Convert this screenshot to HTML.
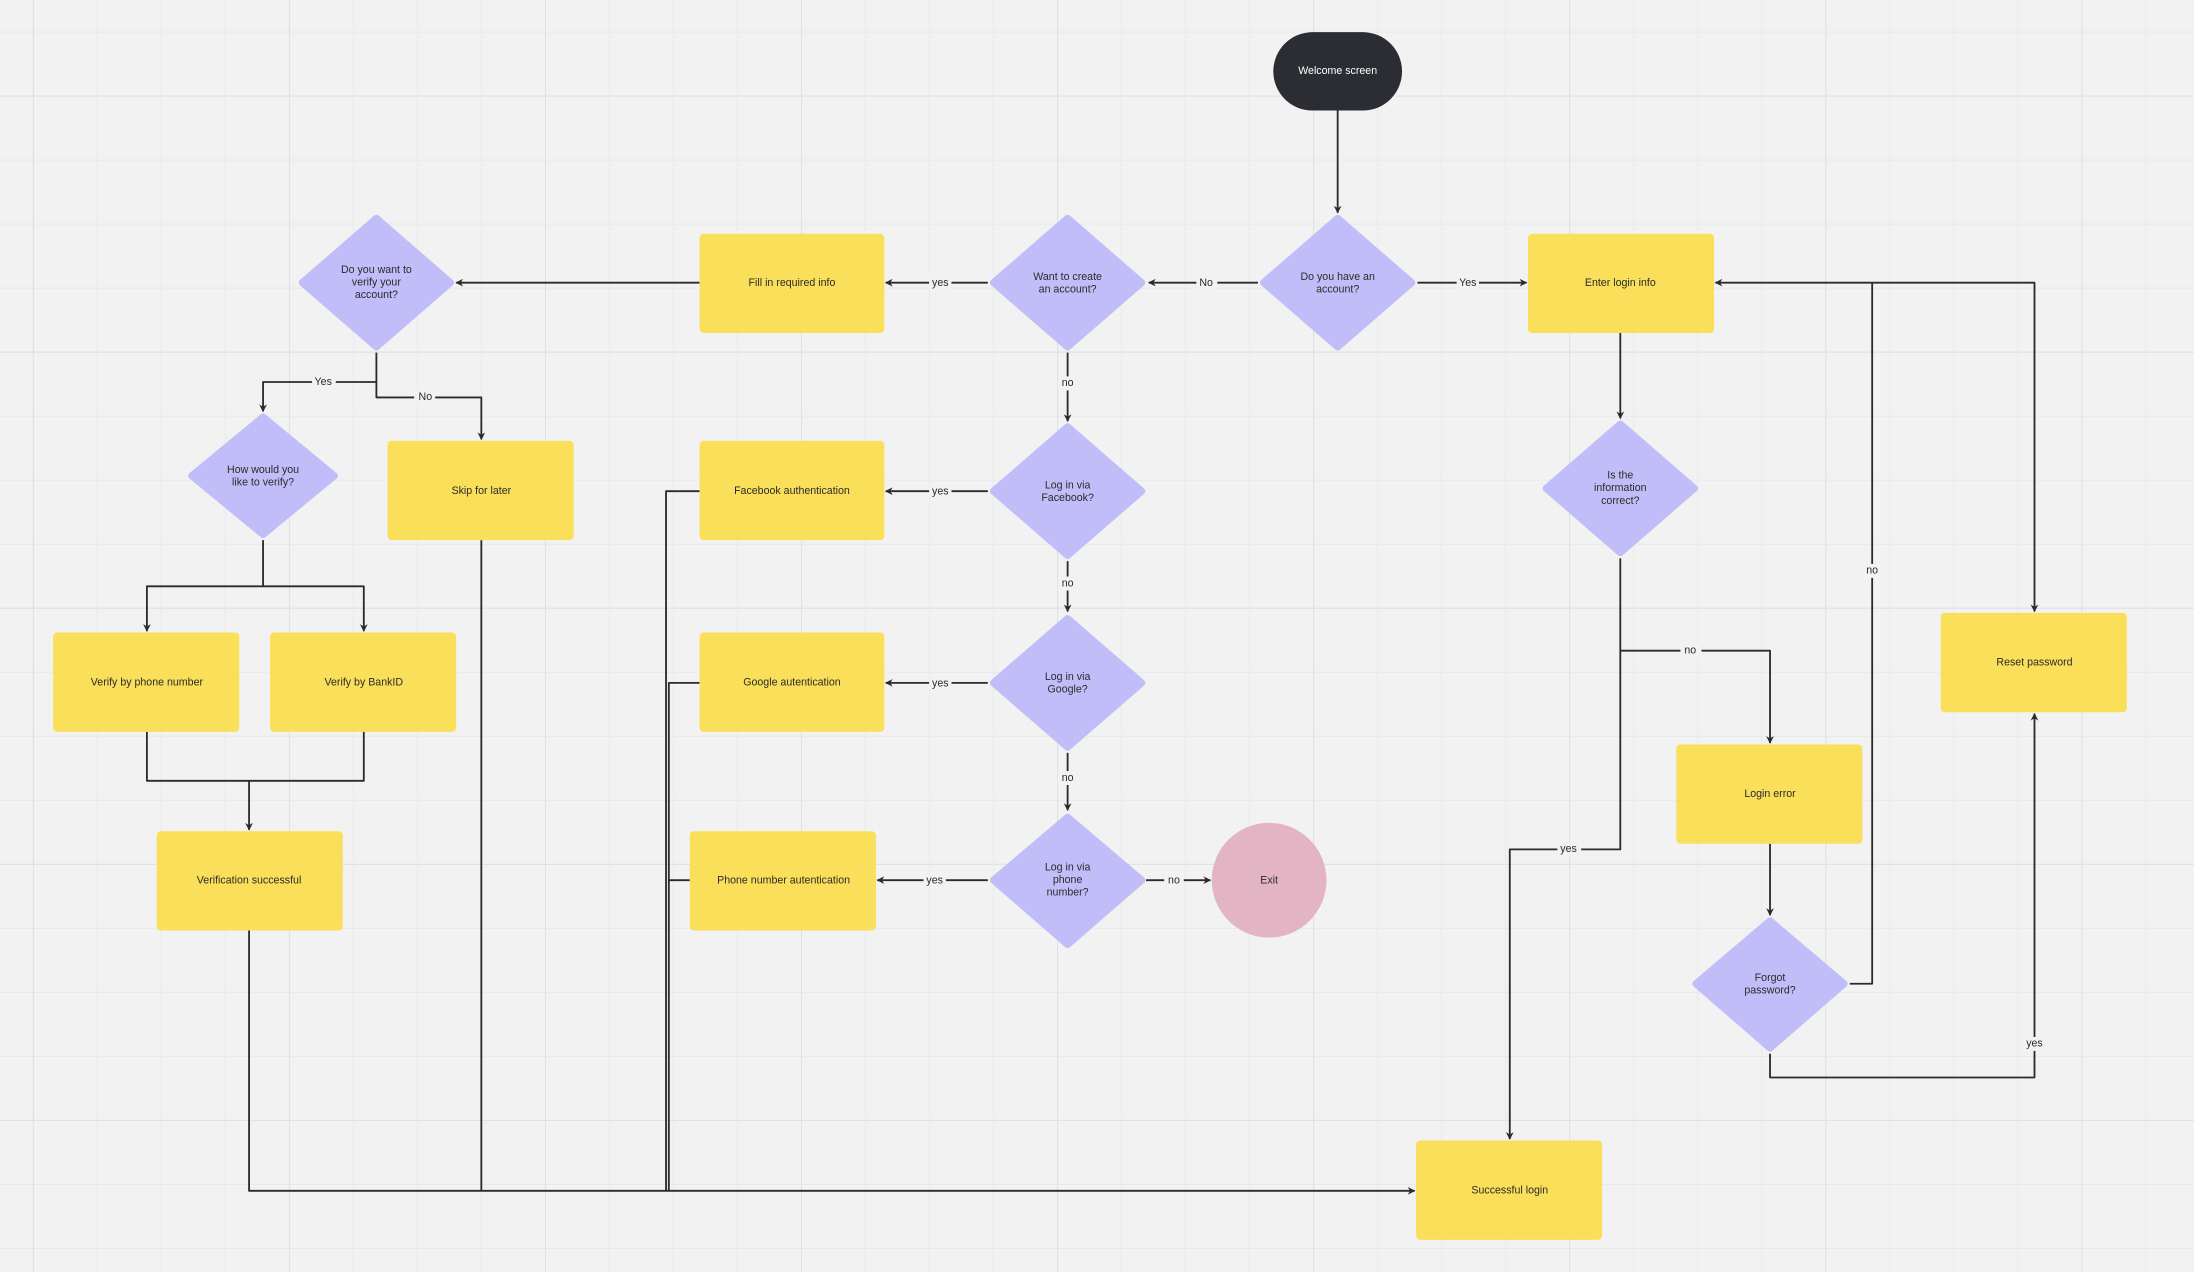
<!DOCTYPE html>
<html><head><meta charset="utf-8"><style>
html,body{margin:0;padding:0;background:#f2f2f2;width:2194px;height:1272px;overflow:hidden}
svg{display:block}
text{font-family:"Liberation Sans",sans-serif;font-size:7.6px;fill:#2b2b2b;text-anchor:middle;dominant-baseline:middle}
.w{fill:#fff}
.l{fill:#444;font-size:7.6px}
</style></head><body>
<svg width="2194" height="1272" viewBox="0 0 1568 909" preserveAspectRatio="none" xmlns="http://www.w3.org/2000/svg">
<defs>
<pattern id="g" x="23.5" y="22.6" width="45.75" height="45.75" patternUnits="userSpaceOnUse"><path d="M0 0H45.75M0 0V45.75" stroke="#e6e6e6" stroke-width="1" fill="none"/></pattern>
<pattern id="G" x="23.5" y="68.3" width="183" height="183" patternUnits="userSpaceOnUse"><path d="M0 0H183M0 0V183" stroke="#e0e0e0" stroke-width="1.4" fill="none"/></pattern>
<marker id="a" viewBox="0 0 10 10" refX="9" refY="5" markerWidth="5.5" markerHeight="5.5" orient="auto" markerUnits="userSpaceOnUse"><path d="M0 0L10 5L0 10L3 5Z" fill="#2b2b2b"/></marker>
</defs>
<rect width="1568" height="909" fill="#f2f2f2"/>
<rect width="1568" height="909" fill="url(#g)"/>
<rect width="1568" height="909" fill="url(#G)"/>

<g fill="none" stroke="#2b2b2b" stroke-width="1.3" stroke-linejoin="round">
<path d="M956 79V152" marker-end="url(#a)"/>
<path d="M1013 202H1091" marker-end="url(#a)"/>
<path d="M899 202H821" marker-end="url(#a)"/>
<path d="M706 202H633" marker-end="url(#a)"/>
<path d="M500 202H326" marker-end="url(#a)"/>
<path d="M763 252V301" marker-end="url(#a)"/>
<path d="M706 351H633" marker-end="url(#a)"/>
<path d="M763 401V437" marker-end="url(#a)"/>
<path d="M706 488H633" marker-end="url(#a)"/>
<path d="M763 538V579" marker-end="url(#a)"/>
<path d="M706 629H627" marker-end="url(#a)"/>
<path d="M819 629H865" marker-end="url(#a)"/>
<path d="M269 252V273H188V294" marker-end="url(#a)"/>
<path d="M269 273V284H344V314" marker-end="url(#a)"/>
<path d="M188 386V419H105V451" marker-end="url(#a)"/>
<path d="M188 419H260V451" marker-end="url(#a)"/>
<path d="M105 523V558H260V523"/>
<path d="M178 558V593" marker-end="url(#a)"/>
<path d="M178 665V851H1011" marker-end="url(#a)"/>
<path d="M344 386V851"/>
<path d="M500 351H476V851"/>
<path d="M500 488H478V851"/>
<path d="M493 629H478"/>
<path d="M1158 238V299" marker-end="url(#a)"/>
<path d="M1158 399V465H1265V531" marker-end="url(#a)"/>
<path d="M1158 465V607H1079V814" marker-end="url(#a)"/>
<path d="M1265 603V654" marker-end="url(#a)"/>
<path d="M1322 703H1338V202H1226" marker-end="url(#a)"/>
<path d="M1338 202H1454V437" marker-end="url(#a)"/>
<path d="M1265 753V770H1454V510" marker-end="url(#a)"/>
</g>

<!-- label backgrounds -->
<g fill="#f2f2f2">
<rect x="1041" y="197" width="16" height="10"/>
<rect x="855" y="197" width="15" height="10"/>
<rect x="664" y="197" width="16" height="10"/>
<rect x="756" y="269" width="14" height="10"/>
<rect x="664" y="346" width="16" height="10"/>
<rect x="756" y="412" width="14" height="10"/>
<rect x="664" y="483" width="16" height="10"/>
<rect x="756" y="551" width="14" height="10"/>
<rect x="660" y="624" width="16" height="10"/>
<rect x="832" y="624" width="14" height="10"/>
<rect x="223" y="268" width="17" height="10"/>
<rect x="296" y="279" width="15" height="10"/>
<rect x="1201" y="460" width="15" height="10"/>
<rect x="1113" y="602" width="17" height="10"/>
<rect x="1331" y="403" width="14" height="10"/>
<rect x="1446" y="741" width="16" height="10"/>
</g>
<g class="l">
<text x="1049" y="202.5">Yes</text>
<text x="862" y="202.5">No</text>
<text x="672" y="202.5">yes</text>
<text x="763" y="274">no</text>
<text x="672" y="351.5">yes</text>
<text x="763" y="417">no</text>
<text x="672" y="488.5">yes</text>
<text x="763" y="556">no</text>
<text x="668" y="629.5">yes</text>
<text x="839" y="629.5">no</text>
<text x="231" y="273">Yes</text>
<text x="304" y="284">No</text>
<text x="1208" y="465">no</text>
<text x="1121" y="607">yes</text>
<text x="1338" y="408">no</text>
<text x="1454" y="746">yes</text>
</g>

<!-- nodes -->
<rect x="910" y="23" width="92" height="56" rx="28" fill="#2b2d33"/>
<text class="w" x="956" y="51">Welcome screen</text>

<g fill="#c1bdf8" stroke="#c1bdf8" stroke-width="5" stroke-linejoin="round">
<polygon points="956,156 1009,202 956,248 903,202"/>
<polygon points="763,156 816,202 763,248 710,202"/>
<polygon points="269,156 322,202 269,248 216,202"/>
<polygon points="188,298 239,340 188,382 137,340"/>
<polygon points="763,305 816,351 763,397 710,351"/>
<polygon points="763,442 816,488 763,534 710,488"/>
<polygon points="763,584 816,629 763,675 710,629"/>
<polygon points="1158,303 1211,349 1158,395 1105,349"/>
<polygon points="1265,658 1318,703 1265,749 1212,703"/>
</g>

<g fill="#fadf5a">
<rect x="1092" y="167" width="133" height="71" rx="3"/>
<rect x="500" y="167" width="132" height="71" rx="3"/>
<rect x="277" y="315" width="133" height="71" rx="3"/>
<rect x="500" y="315" width="132" height="71" rx="3"/>
<rect x="500" y="452" width="132" height="71" rx="3"/>
<rect x="493" y="594" width="133" height="71" rx="3"/>
<rect x="38" y="452" width="133" height="71" rx="3"/>
<rect x="193" y="452" width="133" height="71" rx="3"/>
<rect x="112" y="594" width="133" height="71" rx="3"/>
<rect x="1198" y="532" width="133" height="71" rx="3"/>
<rect x="1387" y="438" width="133" height="71" rx="3"/>
<rect x="1012" y="815" width="133" height="71" rx="3"/>
</g>
<circle cx="907" cy="629" r="41" fill="#e2b4c4"/>

<text x="956" y="198">Do you have an</text><text x="956" y="207">account?</text>
<text x="1158" y="202.5">Enter login info</text>
<text x="763" y="198">Want to create</text><text x="763" y="207">an account?</text>
<text x="566" y="202.5">Fill in required info</text>
<text x="269" y="193">Do you want to</text><text x="269" y="202">verify your</text><text x="269" y="211">account?</text>
<text x="188" y="336">How would you</text><text x="188" y="345">like to verify?</text>
<text x="344" y="351">Skip for later</text>
<text x="566" y="351">Facebook authentication</text>
<text x="763" y="347">Log in via</text><text x="763" y="356">Facebook?</text>
<text x="566" y="488">Google autentication</text>
<text x="763" y="484">Log in via</text><text x="763" y="493">Google?</text>
<text x="560" y="629.5">Phone number autentication</text>
<text x="763" y="620">Log in via</text><text x="763" y="629">phone</text><text x="763" y="638">number?</text>
<text x="907" y="629.5">Exit</text>
<text x="105" y="488">Verify by phone number</text>
<text x="260" y="488">Verify by BankID</text>
<text x="178" y="629.5">Verification successful</text>
<text x="1158" y="340">Is the</text><text x="1158" y="349">information</text><text x="1158" y="358">correct?</text>
<text x="1265" y="567.5">Login error</text>
<text x="1265" y="699">Forgot</text><text x="1265" y="708">password?</text>
<text x="1454" y="473.5">Reset password</text>
<text x="1079" y="851">Successful login</text>
</svg>
</body></html>
